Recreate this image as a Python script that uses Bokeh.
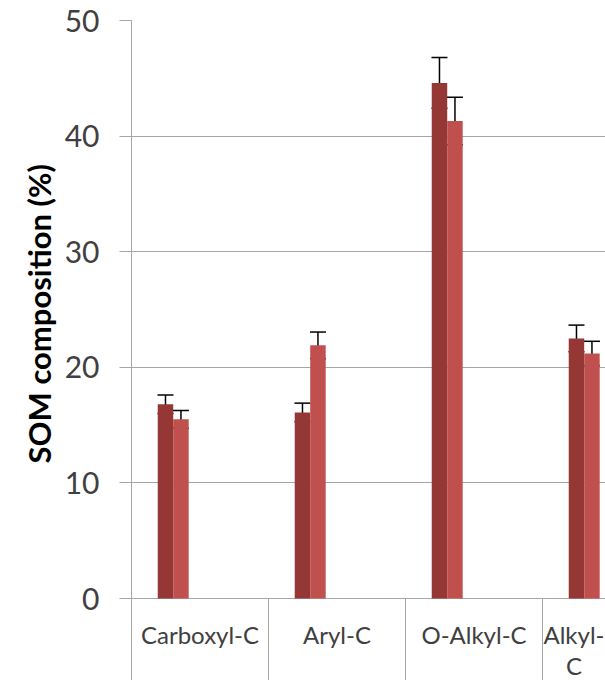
from bokeh.plotting import figure
from bokeh.models import ColumnDataSource, Range1d, FixedTicker, Whisker, TeeHead, Title
from bokeh.core.properties import value
from bokeh.transform import dodge
from bokeh.embed import file_html
from bokeh.resources import INLINE

# ---- data ----
categories = ["Carboxyl-C", "Aryl-C", "O-Alkyl-C", "Alkyl-C"]
category_labels = ["Carboxyl-C", "Aryl-C", "O-Alkyl-C", "Alkyl-\nC"]
series_a = [16.8, 16.1, 44.6, 22.5]
err_a = [0.8, 0.8, 2.2, 1.15]
series_b = [15.5, 21.9, 41.3, 21.2]
err_b = [0.77, 1.15, 2.05, 1.05]
y_ticks = [0, 10, 20, 30, 40, 50]
y_title = "SOM composition (%)"

# ---- layout ----
W, H = 605, 680
LEFT, TOP = 131, 20
AXIS_ZONE = 82          # px below the value axis zero line (category label band)
CAT_PX = 137.0
Y_MAX = 50
PX_PER_UNIT = (H - TOP - AXIS_ZONE) / Y_MAX
Y_START = -AXIS_ZONE / PX_PER_UNIT
X_END = (W - LEFT) / CAT_PX
DARK, LIGHT = "#953735", "#C0504D"
GRID = "#a6a6a6"
FONT = "Lato"

idx = list(range(len(categories)))
src = ColumnDataSource(dict(
    idx=idx,
    a=series_a, b=series_b,
    a_up=[v + e for v, e in zip(series_a, err_a)],
    a_lo=[v - e for v, e in zip(series_a, err_a)],
    b_up=[v + e for v, e in zip(series_b, err_b)],
    b_lo=[v - e for v, e in zip(series_b, err_b)],
))

p = figure(width=W, height=H, x_range=Range1d(0, X_END), y_range=Range1d(Y_START, Y_MAX),
           output_backend="svg", toolbar_location=None,
           min_border_left=LEFT, min_border_right=0, min_border_top=TOP,
           min_border_bottom=0)
p.outline_line_color = None
p.background_fill_color = "white"
p.border_fill_color = "white"
p.xaxis.visible = False

BW = 0.113
OFF_A, OFF_B = 0.248, 0.361
p.vbar(x=dodge("idx", OFF_A), top="a", width=BW, source=src,
       fill_color=DARK, line_color=None)
p.vbar(x=dodge("idx", OFF_B), top="b", width=BW, source=src,
       fill_color=LIGHT, line_color=None)

for off, up, lo in [(OFF_A, "a_up", "a_lo"), (OFF_B, "b_up", "b_lo")]:
    w = Whisker(base=dodge("idx", off), upper=up, lower=lo, source=src,
                line_color="black", line_width=1.5,
                upper_head=TeeHead(size=16, line_color="black", line_width=1.5),
                lower_head=TeeHead(size=16, line_color="black", line_width=1.5))
    p.add_layout(w)

# ---- category band: separators and labels below the zero line ----
bounds = [float(i) for i in idx]
zeros = [0.0] * len(idx)
p.segment(x0=bounds, y0=zeros, x1=bounds, y1=[Y_START] * len(idx),
          line_color=GRID, line_width=1)
centers = [min(i + 0.5, (i + X_END) / 2) for i in idx]
p.text(x=centers, y=zeros, text=category_labels, y_offset=21,
       text_align="center", text_baseline="top",
       text_font=value(FONT), text_font_size="24px", text_color="#404040",
       text_line_height=1.1)

# ---- y axis ----
ya = p.yaxis[0]
ya.ticker = FixedTicker(ticks=y_ticks)
ya.major_label_text_font = FONT
ya.major_label_text_font_size = "30px"
ya.major_label_text_color = "#404040"
ya.major_label_standoff = 20
ya.major_tick_out = 12
ya.major_tick_in = 0
ya.major_tick_line_color = GRID
ya.minor_tick_line_color = None
ya.axis_line_color = GRID

# y title: starts above the category band, reading upwards
p.add_layout(Title(text=y_title, align="left", offset=217,
                   text_font=FONT, text_font_style="bold", text_font_size="31px",
                   text_color="black", standoff=8), "left")

p.xgrid.visible = False
p.ygrid.ticker = FixedTicker(ticks=y_ticks)
p.ygrid.grid_line_color = GRID
p.ygrid.grid_line_width = 1

open("out.html", "w").write(file_html(p, INLINE))
